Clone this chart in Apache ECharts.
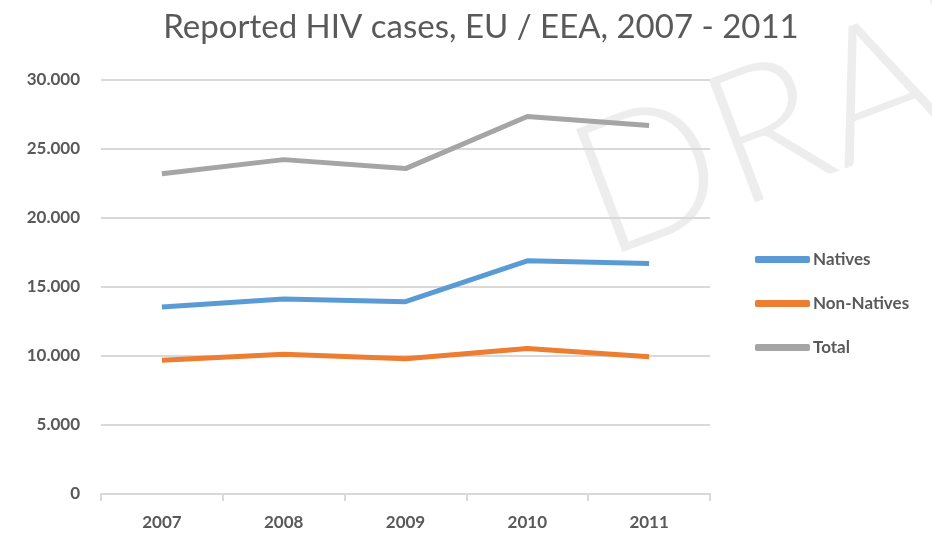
<!DOCTYPE html>
<html>
<head>
<meta charset="utf-8">
<script src="https://cdn.jsdelivr.net/npm/echarts@6/dist/echarts.min.js"></script>
<style>html,body{margin:0;padding:0;background:#fff}#c{width:932px;height:537px}</style>
</head>
<body>
<div id="c"></div>
<script>
const years = ['2007', '2008', '2009', '2010', '2011'];
const natives = [13550, 14130, 13940, 16900, 16710];
const nonNatives = [9690, 10120, 9800, 10550, 9950];
const total = [23210, 24230, 23580, 27360, 26710];
const seriesNames = ['Natives', 'Non-Natives', 'Total'];
const colors = ['#5b9bd5', '#ed7d31', '#a5a5a5'];

const chart = echarts.init(document.getElementById('c'));
const fontFam = 'Lato, "Open Sans", sans-serif';
chart.setOption({
  animation: false,
  title: {
    text: 'Reported HIV cases, EU / EEA, 2007 - 2011',
    left: 476, top: 6, textAlign: 'center',
    textStyle: { fontFamily: fontFam, fontSize: 33, fontWeight: 'normal', color: '#595959' }
  },
  graphic: [{
    type: 'text', x: 616, y: 290, z: -1, rotation: 0.36,
    style: { text: 'DRAFT', font: '300 186px Lato, sans-serif', fill: 'rgba(0,0,0,0.07)', align: 'left', verticalAlign: 'bottom' }
  }],
  legend: {
    orient: 'vertical', left: 750, top: 246, itemGap: 27,
    itemWidth: 55, itemHeight: 7, icon: 'roundRect',
    textStyle: { fontFamily: fontFam, fontSize: 17, fontWeight: 'bold', color: '#595959', padding: [0, 0, 0, -2] },
    data: seriesNames
  },
  grid: { left: 101, right: 222, top: 80, bottom: 43 },
  xAxis: {
    type: 'category', data: years, boundaryGap: true,
    axisLine: { lineStyle: { color: '#d9d9d9', width: 2 } },
    axisTick: { show: true, length: 7, lineStyle: { color: '#d9d9d9', width: 2 } },
    axisLabel: { fontFamily: fontFam, fontSize: 17, fontWeight: 'bold', color: '#595959', margin: 20 }
  },
  yAxis: {
    type: 'value', min: 0, max: 30000, interval: 5000,
    axisLine: { show: false }, axisTick: { show: false },
    splitLine: { lineStyle: { color: '#d9d9d9', width: 2 } },
    axisLabel: {
      fontFamily: fontFam, fontSize: 17, fontWeight: 'bold', color: '#595959', margin: 21,
      formatter: v => v === 0 ? '0' : String(v).replace(/\B(?=(\d{3})+(?!\d))/g, '.')
    }
  },
  series: [
    { name: seriesNames[0], type: 'line', data: natives, showSymbol: false, lineStyle: { width: 5, color: colors[0] }, itemStyle: { color: colors[0] } },
    { name: seriesNames[1], type: 'line', data: nonNatives, showSymbol: false, lineStyle: { width: 5, color: colors[1] }, itemStyle: { color: colors[1] } },
    { name: seriesNames[2], type: 'line', data: total, showSymbol: false, lineStyle: { width: 5, color: colors[2] }, itemStyle: { color: colors[2] } }
  ]
});
</script>
</body>
</html>
